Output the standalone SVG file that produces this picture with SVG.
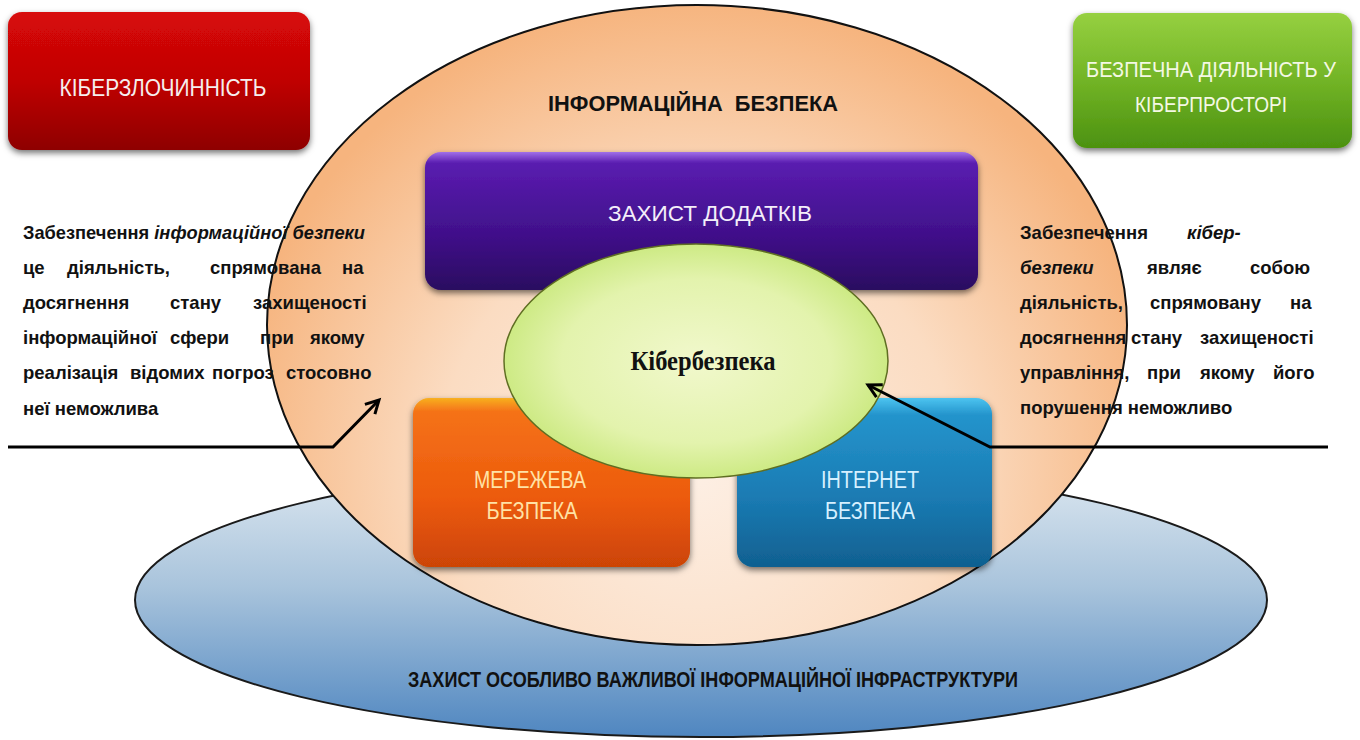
<svg xmlns="http://www.w3.org/2000/svg" width="1360" height="740" viewBox="0 0 1360 740">
<style>
.lbl{font-family:"Liberation Sans",Arial,sans-serif;text-anchor:middle}
.para{font-family:"Liberation Sans",Arial,sans-serif;font-weight:bold;font-size:18.5px;fill:#111}
.it{font-style:italic}
.conn{fill:none;stroke:#000;stroke-width:3;stroke-linejoin:miter}
</style>
<defs>
<filter id="sh" x="-10%" y="-10%" width="120%" height="130%">
<feDropShadow dx="0" dy="3" stdDeviation="3" flood-color="#000" flood-opacity="0.55"/>
</filter>
<radialGradient id="gOr" gradientUnits="userSpaceOnUse" cx="697" cy="470" r="470">
<stop offset="0" stop-color="#fdefe4"/>
<stop offset="0.55" stop-color="#fbdcc2"/>
<stop offset="1" stop-color="#f6b47e"/>
</radialGradient>
<linearGradient id="gBl" x1="0" y1="0" x2="0" y2="1">
<stop offset="0" stop-color="#dfe9f1"/>
<stop offset="0.45" stop-color="#a9c4dc"/>
<stop offset="1" stop-color="#4f86c0"/>
</linearGradient>
<radialGradient id="gGe" cx="0.5" cy="0.5" r="0.5">
<stop offset="0" stop-color="#f1f8cc"/>
<stop offset="0.7" stop-color="#e3f3ad"/>
<stop offset="1" stop-color="#cdea84"/>
</radialGradient>
<linearGradient id="gRed" x1="0" y1="0" x2="0" y2="1">
<stop offset="0" stop-color="#d80808"/>
<stop offset="0.5" stop-color="#c00404"/>
<stop offset="1" stop-color="#8e0000"/>
</linearGradient>
<linearGradient id="gGrn" x1="0" y1="0" x2="0" y2="1">
<stop offset="0" stop-color="#96d040"/>
<stop offset="0.5" stop-color="#72b426"/>
<stop offset="1" stop-color="#4c9210"/>
</linearGradient>
<linearGradient id="gPur" x1="0" y1="0" x2="0" y2="1">
<stop offset="0" stop-color="#a070e8"/>
<stop offset="0.08" stop-color="#5a1cb0"/>
<stop offset="0.6" stop-color="#40108a"/>
<stop offset="1" stop-color="#2a0860"/>
</linearGradient>
<linearGradient id="gOB" x1="0" y1="0" x2="0" y2="1">
<stop offset="0" stop-color="#f8b020"/>
<stop offset="0.08" stop-color="#f57218"/>
<stop offset="0.6" stop-color="#ec5a0c"/>
<stop offset="1" stop-color="#cc4406"/>
</linearGradient>
<linearGradient id="gBB" x1="0" y1="0" x2="0" y2="1">
<stop offset="0" stop-color="#4cc4f0"/>
<stop offset="0.1" stop-color="#2494cc"/>
<stop offset="0.6" stop-color="#1a7ab2"/>
<stop offset="1" stop-color="#106090"/>
</linearGradient>
<marker id="arr" markerUnits="userSpaceOnUse" markerWidth="24" markerHeight="24" viewBox="0 0 24 24" refX="20" refY="12" orient="auto">
<path d="M7,5 L20,12 L7,19" fill="none" stroke="#000" stroke-width="3"/>
</marker>
</defs>
<rect width="1360" height="740" fill="#fff"/>

<g id="infrastructure">
<ellipse cx="701" cy="600" rx="566" ry="137" fill="url(#gBl)" stroke="#1a1a1a" stroke-width="2"/>
<text class="lbl" x="713" y="687" font-size="22" font-weight="bold" fill="#111" textLength="610" lengthAdjust="spacingAndGlyphs">ЗАХИСТ ОСОБЛИВО ВАЖЛИВОЇ ІНФОРМАЦІЙНОЇ ІНФРАСТРУКТУРИ</text>
</g>

<g id="info-security">
<ellipse cx="697" cy="325" rx="430" ry="320" fill="url(#gOr)" stroke="#111" stroke-width="2"/>
<text class="lbl" x="693" y="111" font-size="22" font-weight="bold" fill="#111" textLength="290" lengthAdjust="spacingAndGlyphs" xml:space="preserve">ІНФОРМАЦІЙНА  БЕЗПЕКА</text>
</g>

<g id="cybercrime">
<rect x="8" y="12" width="302" height="138" rx="14" fill="url(#gRed)" filter="url(#sh)"/>
<text class="lbl" x="163" y="96" font-size="24" fill="#f6eeee" textLength="207" lengthAdjust="spacingAndGlyphs">КІБЕРЗЛОЧИННІСТЬ</text>
</g>

<g id="safe-activity">
<rect x="1073" y="13" width="279" height="135" rx="14" fill="url(#gGrn)" filter="url(#sh)"/>
<text class="lbl" x="1211" y="77" font-size="22" fill="#f4f8e4" textLength="250" lengthAdjust="spacingAndGlyphs">БЕЗПЕЧНА ДІЯЛЬНІСТЬ У</text>
<text class="lbl" x="1211" y="112" font-size="22" fill="#f4f8e4" textLength="152" lengthAdjust="spacingAndGlyphs">КІБЕРПРОСТОРІ</text>
</g>

<g id="app-protection">
<rect x="425" y="152" width="553" height="138" rx="16" fill="url(#gPur)" filter="url(#sh)"/>
<text class="lbl" x="710" y="221" font-size="22" fill="#f4eefa" textLength="204" lengthAdjust="spacingAndGlyphs">ЗАХИСТ ДОДАТКІВ</text>
</g>

<g id="network-security">
<rect x="413" y="398" width="277" height="169" rx="16" fill="url(#gOB)" filter="url(#sh)"/>
<text class="lbl" x="530" y="488" font-size="23" fill="#ffe2a6" textLength="112" lengthAdjust="spacingAndGlyphs">МЕРЕЖЕВА</text>
<text class="lbl" x="532" y="519" font-size="23" fill="#ffe2a6" textLength="91" lengthAdjust="spacingAndGlyphs">БЕЗПЕКА</text>
</g>

<g id="internet-security">
<rect x="737" y="398" width="255" height="169" rx="16" fill="url(#gBB)" filter="url(#sh)"/>
<text class="lbl" x="870" y="488" font-size="23" fill="#d6f0ff" textLength="98" lengthAdjust="spacingAndGlyphs">ІНТЕРНЕТ</text>
<text class="lbl" x="870" y="519" font-size="23" fill="#d6f0ff" textLength="90" lengthAdjust="spacingAndGlyphs">БЕЗПЕКА</text>
</g>

<g id="cybersecurity">
<ellipse cx="696" cy="361" rx="192" ry="117" fill="url(#gGe)" stroke="#5f6e22" stroke-width="1.5"/>
<text x="703" y="370" font-family="'Liberation Serif','Times New Roman',serif" font-size="28" font-weight="bold" fill="#111" text-anchor="middle" textLength="145" lengthAdjust="spacingAndGlyphs">Кібербезпека</text>
</g>

<g id="connectors">
<path class="conn" d="M8,447 L333,447 L379,400" marker-end="url(#arr)"/>
<path class="conn" d="M1328,447 L990,447 L868,385" marker-end="url(#arr)"/>
</g>

<g id="left-definition">
<text class="para" x="23" y="239" textLength="342" lengthAdjust="spacingAndGlyphs">Забезпечення <tspan class="it">інформаційної безпеки</tspan></text>
<text class="para" y="274"><tspan x="23">це</tspan><tspan x="67">діяльність,</tspan><tspan x="210">спрямована</tspan><tspan x="342">на</tspan></text>
<text class="para" y="309"><tspan x="23">досягнення</tspan><tspan x="170">стану</tspan><tspan x="253">захищеності</tspan></text>
<text class="para" y="344"><tspan x="23">інформаційної</tspan><tspan x="170">сфери</tspan><tspan x="260">при</tspan><tspan x="310">якому</tspan></text>
<text class="para" y="379"><tspan x="23">реалізація</tspan><tspan x="130">відомих</tspan><tspan x="212">погроз</tspan><tspan x="286">стосовно</tspan></text>
<text class="para" y="415"><tspan x="23">неї неможлива</tspan></text>
</g>

<g id="right-definition">
<text class="para" y="239"><tspan x="1020">Забезпечення</tspan><tspan x="1187" class="it">кібер-</tspan></text>
<text class="para" y="274"><tspan x="1020" class="it">безпеки</tspan><tspan x="1147">являє</tspan><tspan x="1250">собою</tspan></text>
<text class="para" y="309"><tspan x="1020">діяльність,</tspan><tspan x="1150">спрямовану</tspan><tspan x="1290">на</tspan></text>
<text class="para" y="344"><tspan x="1020">досягнення</tspan><tspan x="1131">стану</tspan><tspan x="1200">захищеності</tspan></text>
<text class="para" y="379"><tspan x="1020">управління,</tspan><tspan x="1147">при</tspan><tspan x="1200">якому</tspan><tspan x="1273">його</tspan></text>
<text class="para" y="414"><tspan x="1020">порушення неможливо</tspan></text>
</g>
</svg>
